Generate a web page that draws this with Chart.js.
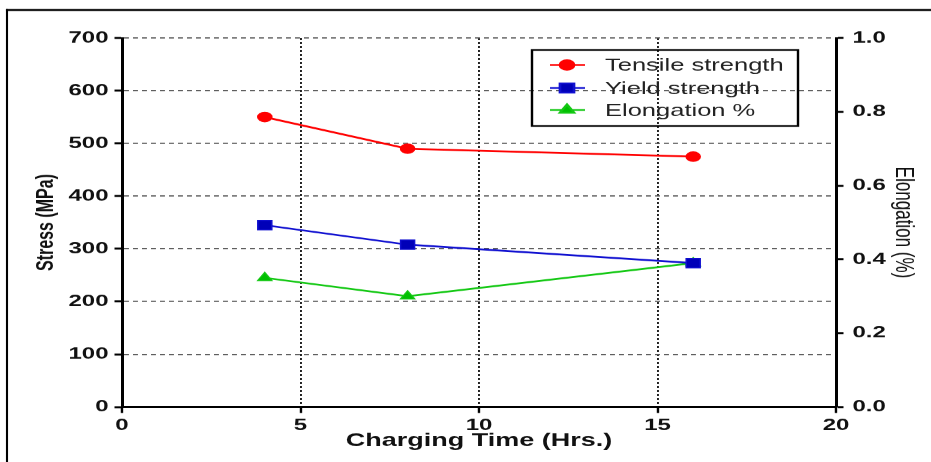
<!DOCTYPE html>
<html><head><meta charset="utf-8">
<script src="https://cdn.jsdelivr.net/npm/chart.js@4"></script>
<style>
html,body{margin:0;padding:0;background:#fff;}
#c{position:absolute;left:0;top:0;width:931px!important;height:462px!important;}
</style></head><body>
<canvas id="c" width="621" height="462"></canvas>
<script>
const hours = [4, 8, 16];
const tensileStrength = [550, 490, 475];
const yieldStrength = [345, 308, 273];
const elongation = [0.35, 0.30, 0.39];
const seriesNames = ['Tensile strength', 'Yield strength', 'Elongation %'];
const xTitle = 'Charging Time (Hrs.)';
const yTitle = 'Stress (MPa)';
const y1Title = 'Elongation (%)';

const SX = 1.5; // horizontal stretch of the reference picture
const FONT = "'Liberation Sans', Arial, sans-serif";
const pts = (xs, ys) => xs.map((x, i) => ({x: x, y: ys[i]}));

const framePlugin = {
  id: 'frame',
  beforeDraw(chart) {
    const ctx = chart.ctx;
    ctx.save();
    ctx.strokeStyle = '#000';
    ctx.lineWidth = 2;
    ctx.beginPath(); ctx.moveTo(7 / SX - 0.7, 10); ctx.lineTo(chart.width, 10); ctx.stroke();
    ctx.lineWidth = 1.4;
    ctx.beginPath(); ctx.moveTo(7 / SX, 9); ctx.lineTo(7 / SX, chart.height); ctx.stroke();
    ctx.restore();
  }
};

const legendPlugin = {
  id: 'boxLegend',
  afterDatasetsDraw(chart) {
    const ctx = chart.ctx;
    const L = 532 / SX, T = 50, R = 798 / SX, B = 126;
    ctx.save();
    ctx.strokeStyle = '#000'; ctx.lineWidth = 1.6;
    ctx.strokeRect(L, T, R - L, B - T);
    const rows = [65, 88, 110];
    chart.data.datasets.forEach((ds, i) => {
      const y = rows[i];
      ctx.strokeStyle = ds.borderColor; ctx.lineWidth = ds.borderWidth;
      ctx.beginPath(); ctx.moveTo(550 / SX, y); ctx.lineTo(585 / SX, y); ctx.stroke();
      ctx.fillStyle = ds.pointBackgroundColor; ctx.strokeStyle = ds.borderColor;
      Chart.helpers.drawPoint(ctx, {pointStyle: ds.pointStyle, radius: ds.pointRadius, borderWidth: 1, rotation: 0}, 567 / SX, y);
      ctx.fillStyle = '#222'; ctx.font = '17px ' + FONT;
      ctx.textBaseline = 'middle'; ctx.textAlign = 'left';
      ctx.fillText(ds.label, 605 / SX, y + 1);
    });
    ctx.restore();
  }
};

const tickFont = {family: FONT, size: 16, weight: 'bold'};

new Chart(document.getElementById('c'), {
  type: 'line',
  data: {
    datasets: [
      {label: seriesNames[0], data: pts(hours, tensileStrength), yAxisID: 'y',
       borderColor: '#ff0000', backgroundColor: '#ff0000', pointBackgroundColor: '#ff0000',
       pointStyle: 'circle', pointRadius: 4.7, pointBorderWidth: 1, borderWidth: 1.8},
      {label: seriesNames[1], data: pts(hours, yieldStrength), yAxisID: 'y',
       borderColor: '#1010d0', backgroundColor: '#0000b8', pointBackgroundColor: '#0000b8',
       pointStyle: 'rect', pointRadius: 6.6, pointBorderWidth: 1, borderWidth: 1.8},
      {label: seriesNames[2], data: pts(hours, elongation), yAxisID: 'y1',
       borderColor: '#14c814', backgroundColor: '#00c000', pointBackgroundColor: '#00c000',
       pointStyle: 'triangle', pointRadius: 5.5, pointBorderWidth: 1, borderWidth: 1.8}
    ]
  },
  options: {
    responsive: false,
    devicePixelRatio: 1.5,
    animation: false,
    layout: {padding: {top: 38, left: 0, right: 0, bottom: 0}},
    plugins: {legend: {display: false}, tooltip: {enabled: false}},
    elements: {line: {fill: false, tension: 0}},
    scales: {
      x: {
        type: 'linear', min: 0, max: 20,
        ticks: {stepSize: 5, font: tickFont, color: '#111', padding: 3, maxRotation: 0},
        grid: {color: '#222', lineWidth: 1.3, tickLength: 6, tickColor: '#000', tickWidth: 1.6, tickBorderDash: []},
        border: {display: true, color: '#000', width: 2, dash: [2, 2]},
        title: {display: true, text: xTitle, color: '#111', font: {family: FONT, size: 18, weight: 'bold'}, padding: {top: 0, bottom: 10}},
        afterFit(s) { s.height = 55; }
      },
      y: {
        position: 'left', min: 0, max: 700,
        ticks: {stepSize: 100, font: tickFont, color: '#111', padding: 4},
        grid: {color: '#555', lineWidth: 1.2, tickLength: 5, tickColor: '#000', tickWidth: 2, tickBorderDash: []},
        border: {display: true, color: '#000', width: 2, dash: [3.3, 2.7]},
        title: {display: true, text: yTitle, color: '#111', font: {family: FONT, size: 16, weight: 'bold'}, padding: {top: 21, bottom: 0}},
        afterFit(s) { s.width = 122 / SX; }
      },
      y1: {
        position: 'right', min: 0, max: 1,
        ticks: {stepSize: 0.2, font: tickFont, color: '#111', padding: 6, callback: v => Number(v).toFixed(1)},
        grid: {drawOnChartArea: false, tickLength: 5, tickColor: '#000', tickWidth: 2, tickBorderDash: []},
        border: {display: true, color: '#000', width: 2},
        title: {display: true, text: y1Title, color: '#111', font: {family: FONT, size: 17, weight: 'normal'}, padding: {top: 9, bottom: 0}},
        afterFit(s) { s.width = 621 - 836 / SX; }
      }
    }
  },
  plugins: [framePlugin, legendPlugin]
});
</script>
</body></html>
